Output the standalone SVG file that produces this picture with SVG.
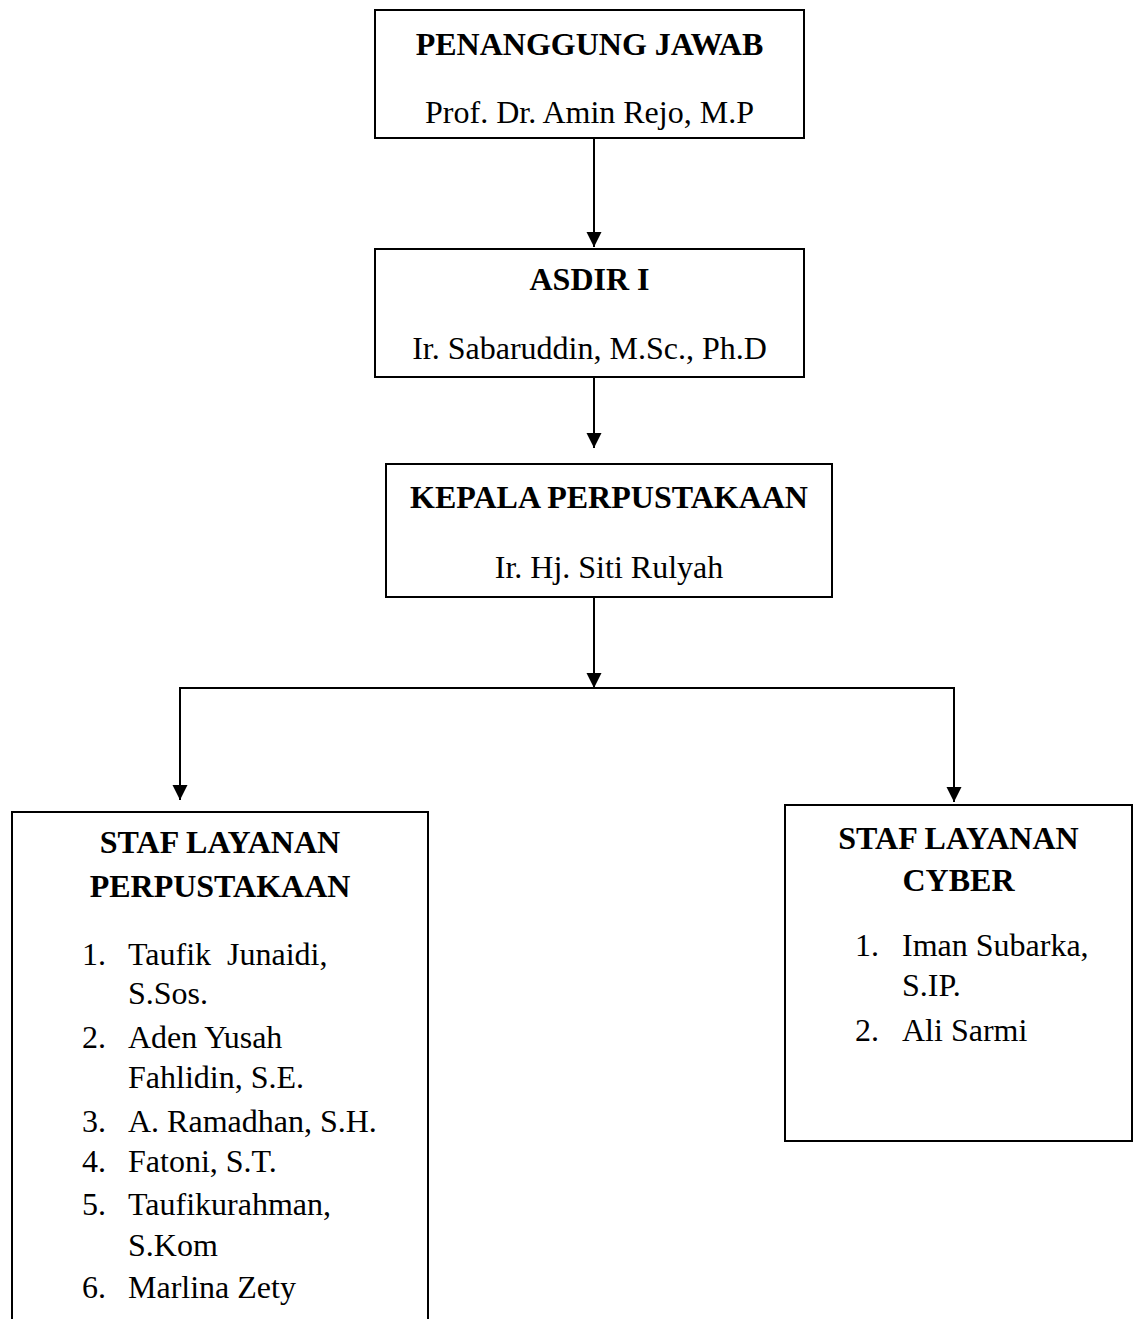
<svg xmlns="http://www.w3.org/2000/svg" width="1133" height="1319" viewBox="0 0 1133 1319">
  <style>
    .box { fill: #ffffff; stroke: #000000; stroke-width: 2; }
    .t { font-family: "Liberation Serif", "Times New Roman", serif; font-size: 32px; fill: #000000; }
    .b { font-weight: bold; }
    .c { text-anchor: middle; }
    .con { fill: none; stroke: #000000; stroke-width: 2; }
  </style>
  <defs>
    <marker id="arr" markerUnits="userSpaceOnUse" markerWidth="16" markerHeight="16" refX="15" refY="7.5" orient="auto">
      <path d="M0,0 L15,7.5 L0,15 Z" fill="#000000"/>
    </marker>
  </defs>
  <rect width="1133" height="1319" fill="#ffffff"/>

  <g id="connectors">
    <line class="con" x1="594" y1="138" x2="594" y2="247" marker-end="url(#arr)"/>
    <line class="con" x1="594" y1="377" x2="594" y2="448" marker-end="url(#arr)"/>
    <line class="con" x1="594" y1="597" x2="594" y2="688" marker-end="url(#arr)"/>
    <polyline class="con" points="180,800 180,688 954,688 954,802"/>
    <line class="con" x1="180" y1="700" x2="180" y2="800" marker-end="url(#arr)"/>
    <line class="con" x1="954" y1="700" x2="954" y2="802" marker-end="url(#arr)"/>
  </g>

  <g id="penanggung-jawab">
    <rect class="box" x="375" y="10" width="429" height="128"/>
    <text class="t b c" x="589.5" y="55">PENANGGUNG JAWAB</text>
    <text class="t c" x="589.5" y="123">Prof. Dr. Amin Rejo, M.P</text>
  </g>

  <g id="asdir">
    <rect class="box" x="375" y="249" width="429" height="128"/>
    <text class="t b c" x="589.5" y="290">ASDIR I</text>
    <text class="t c" x="589.5" y="359">Ir. Sabaruddin, M.Sc., Ph.D</text>
  </g>

  <g id="kepala">
    <rect class="box" x="386" y="464" width="446" height="133"/>
    <text class="t b c" x="609" y="508">KEPALA PERPUSTAKAAN</text>
    <text class="t c" x="609" y="578">Ir. Hj. Siti Rulyah</text>
  </g>

  <g id="staf-perpustakaan">
    <rect class="box" x="12" y="812" width="416" height="530"/>
    <text class="t b c" x="220" y="853">STAF LAYANAN</text>
    <text class="t b c" x="220" y="897">PERPUSTAKAAN</text>
    <text class="t" x="82" y="965">1.</text>
    <text class="t" x="128" y="965" xml:space="preserve" style="white-space:pre">Taufik  Junaidi,</text>
    <text class="t" x="128" y="1004">S.Sos.</text>
    <text class="t" x="82" y="1048">2.</text>
    <text class="t" x="128" y="1048">Aden Yusah</text>
    <text class="t" x="128" y="1088">Fahlidin, S.E.</text>
    <text class="t" x="82" y="1132">3.</text>
    <text class="t" x="128" y="1132">A. Ramadhan, S.H.</text>
    <text class="t" x="82" y="1172">4.</text>
    <text class="t" x="128" y="1172">Fatoni, S.T.</text>
    <text class="t" x="82" y="1215">5.</text>
    <text class="t" x="128" y="1215">Taufikurahman,</text>
    <text class="t" x="128" y="1256">S.Kom</text>
    <text class="t" x="82" y="1298">6.</text>
    <text class="t" x="128" y="1298">Marlina Zety</text>
  </g>

  <g id="staf-cyber">
    <rect class="box" x="785" y="805" width="347" height="336"/>
    <text class="t b c" x="958.5" y="849">STAF LAYANAN</text>
    <text class="t b c" x="958.5" y="891">CYBER</text>
    <text class="t" x="855" y="956">1.</text>
    <text class="t" x="902" y="956">Iman Subarka,</text>
    <text class="t" x="902" y="996">S.IP.</text>
    <text class="t" x="855" y="1041">2.</text>
    <text class="t" x="902" y="1041">Ali Sarmi</text>
  </g>
</svg>
